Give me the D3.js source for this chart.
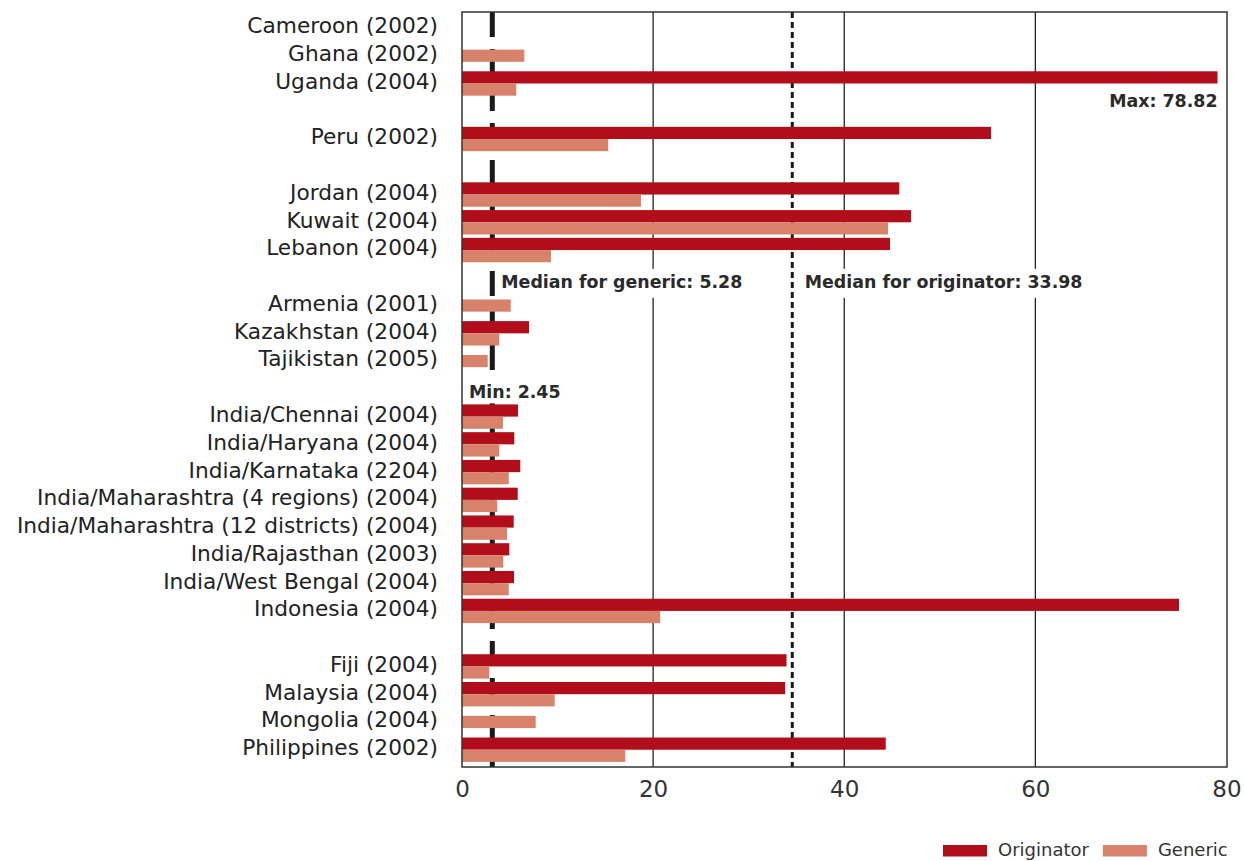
<!DOCTYPE html>
<html>
<head>
<meta charset="utf-8">
<script src="https://cdn.jsdelivr.net/npm/d3@7"></script>
<style>
  body { margin: 0; background: #fff; }
  svg { display: block; font-family: "DejaVu Sans", sans-serif; }
</style>
</head>
<body>
<div id="chart"></div>
<script>
// Rows top to bottom; groupSizes says how many rows sit in each block
const countries = [
  "Cameroon (2002)", "Ghana (2002)", "Uganda (2004)",
  "Peru (2002)",
  "Jordan (2004)", "Kuwait (2004)", "Lebanon (2004)",
  "Armenia (2001)", "Kazakhstan (2004)", "Tajikistan (2005)",
  "India/Chennai (2004)", "India/Haryana (2004)", "India/Karnataka (2204)",
  "India/Maharashtra (4 regions) (2004)", "India/Maharashtra (12 districts) (2004)",
  "India/Rajasthan (2003)", "India/West Bengal (2004)", "Indonesia (2004)",
  "Fiji (2004)", "Malaysia (2004)", "Mongolia (2004)", "Philippines (2002)"
];
const groupSizes = [3, 1, 3, 3, 8, 4];

const originator = [
  null, null, 79.06,
  55.36,
  45.76, 46.99, 44.79,
  null, 7.01, null,
  5.86, 5.47, 6.1, 5.83, 5.41, 4.95, 5.44, 75.03,
  33.96, 33.82, null, 44.34
];
const generic = [
  null, 6.52, 5.68,
  15.3,
  18.73, 44.58, 9.31,
  5.1, 3.9, 2.69,
  4.29, 3.9, 4.89, 3.69, 4.71, 4.32, 4.89, 20.74,
  2.86, 9.7, 7.71, 17.09
];

const xTicks = [0, 20, 40, 60, 80];
const gridTicks = [20, 40, 60];

// median markers (where they sit on the axis) and their printed labels
const medianGenericAt = 3.17;
const medianOriginatorAt = 34.56;
const medianGenericLabel = "Median for generic: 5.28";
const medianOriginatorLabel = "Median for originator: 33.98";
const maxLabel = "Max: 78.82";
const minLabel = "Min: 2.45";

const seriesNames = ["Originator", "Generic"];
const seriesColors = ["#b20d1b", "#d8826b"];

const width = 1244;
const height = 861;
const plot = { left: 462, right: 1227, top: 12, bottom: 767 };

const svg = d3.select("#chart")
  .append("svg")
  .attr("width", width)
  .attr("height", height);

const x = d3.scaleLinear().domain([0, 80]).range([plot.left, 1226.5]);

// slot index per row, leaving one empty slot after every block
const rowSlot = [];
const gapSlot = [];
let s = 0;
groupSizes.forEach((n) => {
  for (let k = 0; k < n; k++) rowSlot.push(s++);
  gapSlot.push(s++);
});
const nSlots = s - 1;

const y = d3.scaleBand().domain(d3.range(nSlots)).range([14.1, 763.6]);
const mid = (slot) => y(slot) + y.bandwidth() / 2;
const barH = 12.2;

// Gridlines
svg.append("g")
  .selectAll("line")
  .data(gridTicks)
  .join("line")
  .attr("x1", (d) => x(d))
  .attr("x2", (d) => x(d))
  .attr("y1", plot.top)
  .attr("y2", plot.bottom)
  .attr("stroke", "#222")
  .attr("stroke-width", 1.3);

// Median lines (behind the bars)
svg.append("line")
  .attr("x1", x(medianGenericAt))
  .attr("x2", x(medianGenericAt))
  .attr("y1", plot.top)
  .attr("y2", plot.bottom)
  .attr("stroke", "#1a1a1a")
  .attr("stroke-width", 5)
  .attr("stroke-dasharray", "25 12");

svg.append("line")
  .attr("x1", x(medianOriginatorAt))
  .attr("x2", x(medianOriginatorAt))
  .attr("y1", plot.top)
  .attr("y2", plot.bottom)
  .attr("stroke", "#1a1a1a")
  .attr("stroke-width", 3)
  .attr("stroke-dasharray", "6 4");

// Annotations with a white backing where they cross lines (drawn before bars)
function note(text, xPos, yPos, anchor, back) {
  const grp = svg.append("g");
  const t = grp.append("text")
    .attr("x", xPos)
    .attr("y", yPos)
    .attr("text-anchor", anchor)
    .style("font-size", "17.4px")
    .style("font-weight", "bold")
    .style("fill", "#2a2a2a")
    .text(text);
  if (back) {
    const bb = t.node().getBBox();
    grp.insert("rect", "text")
      .attr("x", bb.x - 3)
      .attr("y", yPos - back[0])
      .attr("width", bb.width + 6)
      .attr("height", back[0] + back[1])
      .attr("fill", "#fff");
  }
}

const medianSlot = gapSlot[2];
note(medianGenericLabel, x(medianGenericAt) + 9, mid(medianSlot) + 10, "start", [19, 10]);
note(medianOriginatorLabel, x(medianOriginatorAt) + 12.5, mid(medianSlot) + 10, "start", [19, 10]);
note(minLabel, x(0) + 7, mid(gapSlot[3]) + 9.5, "start", [17, 5]);

// Bars
const bars = svg.append("g");
countries.forEach((name, i) => {
  const c = mid(rowSlot[i]);
  const o = originator[i];
  const g = generic[i];
  const both = o != null && g != null;
  if (o != null) {
    bars.append("rect")
      .attr("x", x(0))
      .attr("y", both ? c - barH : c - barH / 2)
      .attr("width", x(o) - x(0))
      .attr("height", barH)
      .attr("fill", seriesColors[0]);
  }
  if (g != null) {
    bars.append("rect")
      .attr("x", x(0))
      .attr("y", both ? c : c - barH / 2)
      .attr("width", x(g) - x(0))
      .attr("height", barH)
      .attr("fill", seriesColors[1]);
  }
});

note(maxLabel, x(d3.max(originator)), mid(gapSlot[0]) - 4, "end", null);

// Frame
svg.append("rect")
  .attr("x", plot.left)
  .attr("y", plot.top)
  .attr("width", plot.right - plot.left)
  .attr("height", plot.bottom - plot.top)
  .attr("fill", "none")
  .attr("stroke", "#333")
  .attr("stroke-width", 1.5);

// X axis labels
const xAxis = svg.append("g")
  .attr("transform", `translate(0, ${plot.bottom})`)
  .call(d3.axisBottom(x).tickValues(xTicks).tickSize(0).tickPadding(13.7));
xAxis.select(".domain").remove();
xAxis.selectAll("text")
  .style("font-family", "'DejaVu Sans', sans-serif")
  .style("font-size", "23px")
  .style("fill", "#333");

// Country labels
svg.append("g")
  .selectAll("text")
  .data(countries)
  .join("text")
  .attr("x", 438)
  .attr("y", (d, i) => mid(rowSlot[i]) - 2.2)
  .attr("dy", "0.35em")
  .attr("text-anchor", "end")
  .style("font-size", "21.7px")
  .style("fill", "#222")
  .text((d) => d);

// Legend
const legend = svg.append("g");
let lx = 943;
seriesNames.forEach((name, i) => {
  legend.append("rect")
    .attr("x", lx)
    .attr("y", 845)
    .attr("width", 44)
    .attr("height", 11.5)
    .attr("fill", seriesColors[i]);
  const t = legend.append("text")
    .attr("x", lx + 55)
    .attr("y", 856)
    .style("font-size", "18px")
    .style("fill", "#333")
    .text(name);
  lx += 55 + t.node().getComputedTextLength() + 14;
});
</script>
</body>
</html>
